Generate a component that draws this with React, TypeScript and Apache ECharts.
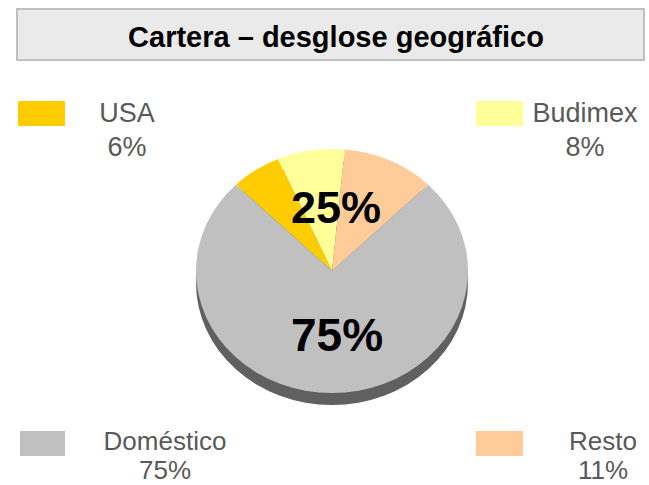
import React, { useEffect, useRef } from "react";
import * as echarts from "echarts";

const titleText = "Cartera – desglose geográfico";
const categories = ["USA", "Budimex", "Resto", "Doméstico"];
const values = [6, 8, 11, 75];
const colors = ["#ffcc00", "#ffff99", "#ffcc99", "#c0c0c0"];

// layout only (not data)
const legendLayout = [
  { rx: 18, ry: 101, rw: 47, rh: 25, tx: 127, ty: 113, gap: 34, fs: 27 },
  { rx: 476, ry: 101, rw: 47, rh: 25, tx: 585, ty: 113, gap: 34, fs: 27 },
  { rx: 476, ry: 431, rw: 47, rh: 25, tx: 603, ty: 441, gap: 29, fs: 26 },
  { rx: 20, ry: 431, rw: 45, rh: 25, tx: 165, ty: 441, gap: 29, fs: 26 },
];

const FONT = "'Liberation Sans', Arial, Helvetica, sans-serif";

export default function App() {
  const ref = useRef<HTMLDivElement>(null);
  useEffect(() => {
    if (!ref.current) return;
    const chart = echarts.init(ref.current, null, { renderer: "svg" });
    const total = values.reduce((a, b) => a + b, 0);
    const cum: number[] = [];
    let acc = 0;
    values.forEach((v) => {
      cum.push(acc);
      acc += v;
    });
    const cx = 332;
    const cy = 271;
    const rx = 136;
    const k = 122 / 136;
    const depth = 12;
    const startMath = 135;

    const domestic = values[categories.indexOf("Doméstico")];
    const foreign = total - domestic;
    const pct = (v: number) => Math.round((v / total) * 100) + "%";

    const graphics: any[] = [
      {
        type: "rect",
        shape: { x: 17, y: 9, width: 627, height: 51 },
        style: { fill: "#eaeaea", stroke: "#c0c0c0", lineWidth: 2 },
        z: 0,
      },
      {
        type: "text",
        x: 336,
        y: 37,
        style: {
          text: titleText,
          font: `bold 29px ${FONT}`,
          fill: "#000",
          align: "center",
          verticalAlign: "middle",
        },
        z: 1,
      },
      {
        type: "text",
        x: 336,
        y: 207,
        style: {
          text: pct(foreign),
          font: `bold 45px ${FONT}`,
          fill: "#000",
          align: "center",
          verticalAlign: "middle",
        },
        z: 10,
      },
      {
        type: "text",
        x: 337,
        y: 335,
        style: {
          text: pct(domestic),
          font: `bold 46px ${FONT}`,
          fill: "#000",
          align: "center",
          verticalAlign: "middle",
        },
        z: 10,
      },
    ];

    categories.forEach((c, i) => {
      const L = legendLayout[i];
      graphics.push({
        type: "rect",
        shape: { x: L.rx, y: L.ry, width: L.rw, height: L.rh },
        style: { fill: colors[i] },
        z: 1,
      });
      graphics.push({
        type: "text",
        x: L.tx,
        y: L.ty,
        style: {
          text: c,
          font: `${L.fs}px ${FONT}`,
          fill: "#595959",
          align: "center",
          verticalAlign: "middle",
        },
        z: 1,
      });
      graphics.push({
        type: "text",
        x: L.tx,
        y: L.ty + L.gap,
        style: {
          text: pct(values[i]),
          font: `${L.fs}px ${FONT}`,
          fill: "#595959",
          align: "center",
          verticalAlign: "middle",
        },
        z: 1,
      });
    });

    chart.setOption({
      animation: false,
      graphic: graphics,
      series: [
        {
          type: "custom",
          coordinateSystem: "none",
          data: values.map((v, i) => ({ name: categories[i], value: v })),
          renderItem: (params: any, api: any) => {
            const i = params.dataIndex;
            const v = api.value(0);
            const a0 = startMath - (360 * cum[i]) / total;
            const a1 = startMath - (360 * (cum[i] + v)) / total;
            const s = (-a0 * Math.PI) / 180;
            const e = (-a1 * Math.PI) / 180;
            return {
              type: "group",
              children: [
                {
                  type: "group",
                  x: cx,
                  y: cy + depth,
                  scaleY: k,
                  children: [
                    {
                      type: "sector",
                      shape: { cx: 0, cy: 0, r: rx, startAngle: s, endAngle: e, clockwise: true },
                      style: { fill: "#606060" },
                      z2: 0,
                    },
                  ],
                },
                {
                  type: "group",
                  x: cx,
                  y: cy,
                  scaleY: k,
                  children: [
                    {
                      type: "sector",
                      shape: { cx: 0, cy: 0, r: rx, startAngle: s, endAngle: e, clockwise: true },
                      style: { fill: colors[i] },
                      z2: 10,
                    },
                  ],
                },
              ],
            };
          },
        },
      ],
    });
    return () => chart.dispose();
  }, []);
  return (
    <div
      ref={ref}
      style={{ position: "fixed", left: 0, top: 0, width: 649, height: 485, background: "#fff" }}
    />
  );
}
